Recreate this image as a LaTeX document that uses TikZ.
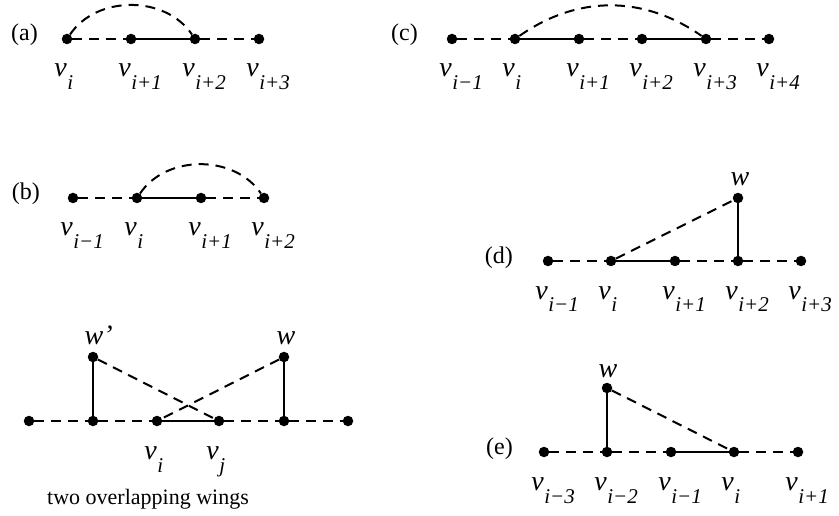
\documentclass[tikz,border=0pt]{standalone}
\usepackage{fontspec}
\setmainfont{Liberation Serif}
\usepackage{tikz}
\usetikzlibrary{calc}

\newcommand{\vsub}[1]{\textit{v}\rlap{\kern0.5pt\raisebox{-13pt}{\fontsize{21}{21}\selectfont\textit{#1}}}}

\begin{document}
\begin{tikzpicture}[
    x=1pt, y=-1pt,
    dot/.style={circle, fill=black, inner sep=0pt, minimum size=10.5pt},
    solidedge/.style={line width=2pt},
    dashedge/.style={line width=2pt, dash pattern=on 10pt off 7pt},
    vlab/.style={anchor=base east, inner sep=0pt, font=\fontsize{28}{28}\selectfont},
    wlab/.style={anchor=base, inner sep=0pt, font=\fontsize{28}{28}\selectfont\itshape},
    tag/.style={anchor=base east, inner sep=0pt, font=\fontsize{24}{24}\selectfont}
]
    \useasboundingbox (0,0) rectangle (839,516);

    % (a)
    \node[tag] (ta) at (38,41) {(a)};
    \foreach \x/\s [count=\k] in {67/i, 131/i+1, 195/i+2, 259/i+3} {
        \node[dot] (a\k) at (\x,39) {};
        \node[vlab] (la\k) at ($(a\k)+(0,38)$) {\vsub{\s}};
    }
    \draw[dashedge] (a1) -- (a2);
    \draw[solidedge] (a2) -- (a3);
    \draw[dashedge] (a3) -- (a4);
    \draw[dashedge] (a1) to[bend left=56] (a3);

    % (c)
    \node[tag] (tc) at (418,41) {(c)};
    \foreach \x/\s [count=\k] in {452/i−1, 515/i, 579/i+1, 642/i+2, 706/i+3, 769/i+4} {
        \node[dot] (c\k) at (\x,39) {};
        \node[vlab] (lc\k) at ($(c\k)+(0,38)$) {\vsub{\s}};
    }
    \draw[dashedge] (c1) -- (c2);
    \draw[solidedge] (c2) -- (c3);
    \draw[dashedge] (c3) -- (c4);
    \draw[solidedge] (c4) -- (c5);
    \draw[dashedge] (c5) -- (c6);
    \draw[dashedge] (c2) to[bend left=35] (c5);

    % (b)
    \node[tag] (tb) at (40,200) {(b)};
    \foreach \x/\s [count=\k] in {73/i−1, 137/i, 201/i+1, 264/i+2} {
        \node[dot] (b\k) at (\x,198) {};
        \node[vlab] (lb\k) at ($(b\k)+(0,38)$) {\vsub{\s}};
    }
    \draw[dashedge] (b1) -- (b2);
    \draw[solidedge] (b2) -- (b3);
    \draw[dashedge] (b3) -- (b4);
    \draw[dashedge] (b2) to[bend left=56] (b4);

    % (d)
    \node[tag] (td) at (513,263) {(d)};
    \foreach \x/\s [count=\k] in {548/i−1, 611/i, 675/i+1, 738/i+2, 801/i+3} {
        \node[dot] (d\k) at (\x,261) {};
        \node[vlab] (ld\k) at ($(d\k)+(0,38)$) {\vsub{\s}};
    }
    \node[dot] (dw) at (738,198) {};
    \node[wlab] (ldw) at ($(dw)+(2,-12)$) {w};
    \draw[dashedge] (d1) -- (d2);
    \draw[solidedge] (d2) -- (d3);
    \draw[dashedge] (d3) -- (d4);
    \draw[dashedge] (d4) -- (d5);
    \draw[solidedge] (d4) -- (dw);
    \draw[dashedge] (d2) -- (dw);

    % two overlapping wings
    \foreach \x [count=\k] in {29, 93, 157, 219, 284, 348} {
        \node[dot] (g\k) at (\x,421) {};
    }
    \node[vlab] (lg3) at ($(g3)+(0,38)$) {\vsub{i}};
    \node[vlab] (lg4) at ($(g4)+(0,38)$) {\vsub{j}};
    \node[dot] (gw1) at (93,357) {};
    \node[dot] (gw2) at (284,357) {};
    \node[wlab] (lgw1) at ($(gw1)+(1,-13)$) {w\rlap{’}};
    \node[wlab] (lgw2) at ($(gw2)+(2,-13)$) {w};
    \draw[dashedge] (g1) -- (g2);
    \draw[dashedge] (g2) -- (g3);
    \draw[solidedge] (g3) -- (g4);
    \draw[dashedge] (g4) -- (g5);
    \draw[dashedge] (g5) -- (g6);
    \draw[solidedge] (g2) -- (gw1);
    \draw[solidedge] (g5) -- (gw2);
    \draw[dashedge] (gw1) -- (g4);
    \draw[dashedge] (gw2) -- (g3);
    \node[anchor=base, inner sep=0pt, font=\fontsize{22}{22}\selectfont] (cap) at (148,504) {two overlapping wings};

    % (e)
    \node[tag] (te) at (513,454) {(e)};
    \foreach \x/\s [count=\k] in {544/i−3, 607/i−2, 671/i−1, 734/i, 798/i+1} {
        \node[dot] (e\k) at (\x,452) {};
        \node[vlab] (le\k) at ($(e\k)+(0,38)$) {\vsub{\s}};
    }
    \node[dot] (ew) at (607,388) {};
    \node[wlab] (lew) at ($(ew)+(1,-11)$) {w};
    \draw[dashedge] (e1) -- (e2);
    \draw[dashedge] (e2) -- (e3);
    \draw[solidedge] (e3) -- (e4);
    \draw[dashedge] (e4) -- (e5);
    \draw[solidedge] (e2) -- (ew);
    \draw[dashedge] (ew) -- (e4);
\end{tikzpicture}
\end{document}
